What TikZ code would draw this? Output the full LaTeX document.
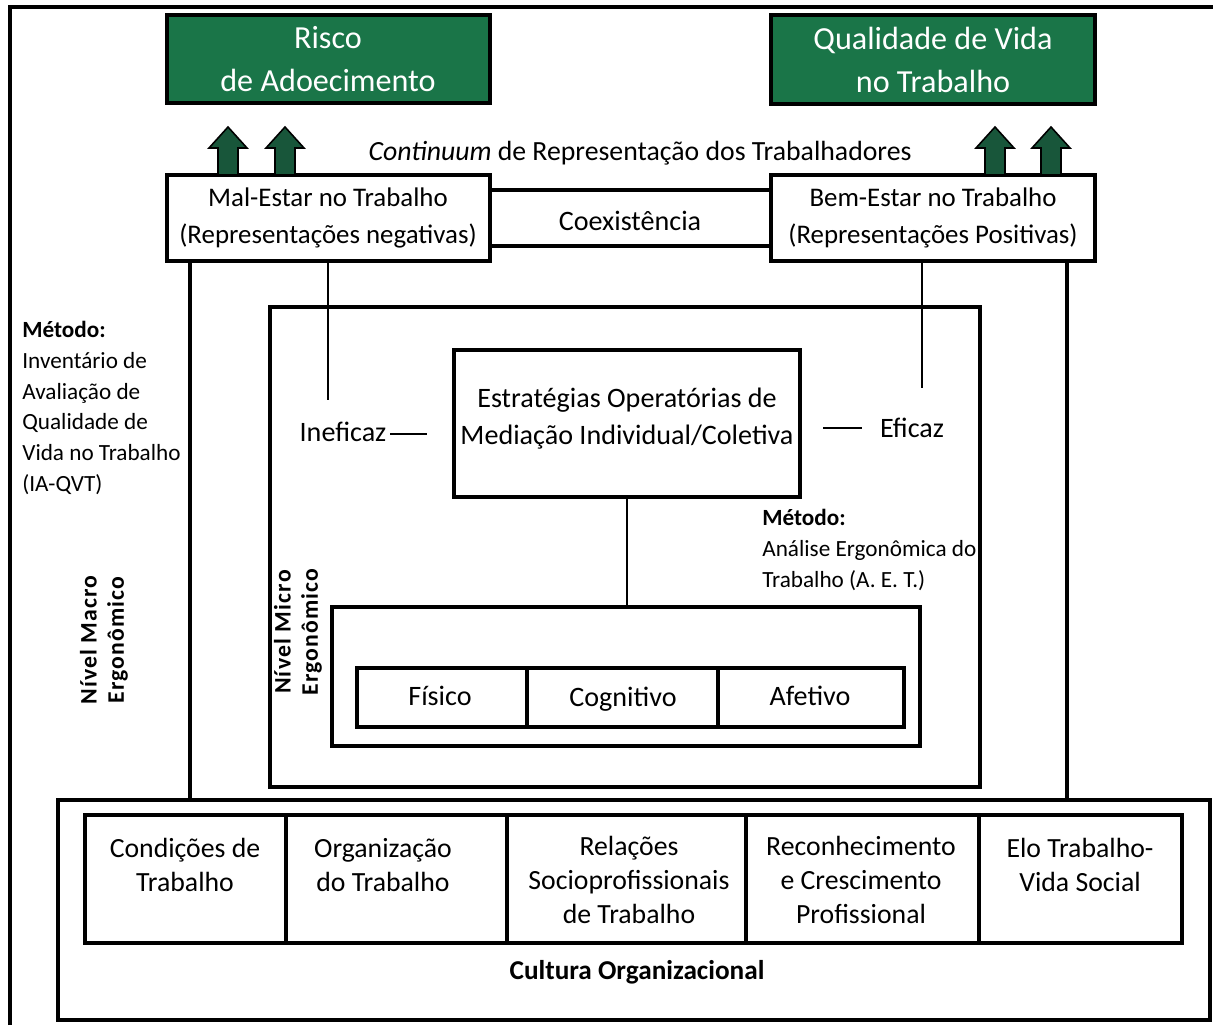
\documentclass[tikz,border=0pt]{standalone}
\usepackage{fontspec}
\setmainfont{Carlito}
\usetikzlibrary{fit}
\definecolor{qgreen}{RGB}{26,117,72}
\definecolor{qarrow}{RGB}{24,86,58}
\begin{document}
\begin{tikzpicture}[x=0.02cm,y=-0.02cm,
  thick line/.style={line width=2.1pt},
  thin line/.style={line width=1.2pt},
  boxframe/.style={draw=black, thick line, inner sep=0pt},
  gbox/.style={boxframe, fill=qgreen},
  wbox/.style={boxframe, fill=white},
  txt/.style={align=center, inner sep=0pt, font=\fontsize{16}{21}\selectfont},
  gtxt/.style={txt, text=white, font=\fontsize{18.3}{24}\selectfont},
  rtxt/.style={txt, font=\fontsize{15.3}{21}\selectfont},
  ctxt/.style={txt, font=\fontsize{15.8}{19.3}\selectfont},
  small/.style={align=left, inner sep=0pt, font=\fontsize{13.2}{17.5}\selectfont},
  rot/.style={rotate=90, align=center, inner sep=0pt,
    font=\bfseries\fontsize{13.5}{15.5}\selectfont\addfontfeatures{LetterSpace=5}},
  uparr/.pic={\filldraw[fill=qarrow, draw=black, line width=0.9pt]
    (-10,0) -- (-10,-27) -- (-19,-27) -- (0,-48) -- (19,-27) -- (10,-27) -- (10,0) -- cycle;}
]
\fill[white] (0,0) rectangle (1213,1025);
\useasboundingbox (0,0) rectangle (1213,1025);

% page frame
\draw[thick line] (10,1025) -- (10,7) -- (1213,7);

% outcomes
\node[gbox, fit={(167,15) (490,103)}] (risco) {};
\node[gtxt] (riscot) at (328,59) {Risco\\de Adoecimento};
\node[gbox, fit={(771,15) (1095,104)}] (qvt) {};
\node[gtxt] (qvtt) at (933,60) {Qualidade de Vida\\no Trabalho};

% representations
\node[wbox, fit={(167,175) (490,261)}] (mal) {};
\node[rtxt] (malt) at (328,218) {Mal-Estar no Trabalho\\(Representações negativas)};
\node[wbox, fit={(771,175) (1095,261)}] (bem) {};
\node[rtxt] (bemt) at (933,218) {Bem-Estar no Trabalho\\(Representações Positivas)};

% arrows onto the outcomes
\pic at (228,175) {uparr};
\pic at (285,175) {uparr};
\pic at (995,175) {uparr};
\pic at (1051,175) {uparr};

\node[txt, font=\fontsize{15.8}{20}\selectfont] (cont) at (640,153)
  {\textit{Continuum} de Representação dos Trabalhadores};

% coexistence band
\coordinate (c1) at (490,190);
\coordinate (c2) at (771,190);
\coordinate (c3) at (490,246);
\coordinate (c4) at (771,246);
\draw[thick line] (c1) -- (c2);
\draw[thick line] (c3) -- (c4);
\node[txt] (coex) at (630,221) {Coexistência};

% macro level
\node[boxframe, fit={(270,307) (980,787)}] (micro) {};
\node[wbox, fit={(58,800) (1210,1020)}] (cultura) {};
\coordinate (ml) at (190,261);
\coordinate (mlb) at (190,800);
\coordinate (mr) at (1067,261);
\coordinate (mrb) at (1067,800);
\draw[thick line] (ml) -- (mlb);
\draw[thick line] (mr) -- (mrb);

% strategies
\node[boxframe, fit={(454,350) (800,497)}] (estr) {};
\node[txt] (estrt) at (627,419) {Estratégias Operatórias de\\Mediação Individual/Coletiva};

\node[txt] (inef) at (343,432) {Ineficaz};
\node[txt] (efic) at (912,428) {Eficaz};
\coordinate (i0) at (328,261);
\coordinate (i1) at (328,400);
\coordinate (e0) at (922,261);
\coordinate (e1) at (922,388);
\draw[thin line] (i0) -- (i1);
\draw[thin line] (e0) -- (e1);
\coordinate (n1) at (390,434);
\coordinate (n2) at (427,434);
\draw[thin line] (n1) -- (n2);
\coordinate (d1) at (823,428);
\coordinate (d2) at (862,428);
\draw[thin line] (d1) -- (d2);

% dimensions
\node[boxframe, fit={(332,607) (920,746)}] (dims) {};
\draw[thin line] (estr.south) -- (dims.north -| estr.south);
\node[boxframe, fit={(357,668) (527,727)}] (fis) {};
\node[boxframe, fit={(527,668) (718,727)}] (cog) {};
\node[boxframe, fit={(718,668) (904,727)}] (afe) {};
\node[txt] (fist) at (440,696) {Físico};
\node[txt] (cogt) at (623,699) {Cognitivo};
\node[txt] (afet) at (810,696) {Afetivo};

% methods
\node[small, anchor=north west] (met1) at (22,321)
  {\textbf{Método:}\\Inventário de\\Avaliação de\\Qualidade de\\Vida no Trabalho\\(IA-QVT)};
\node[small, anchor=north west] (met2) at (762,509)
  {\textbf{Método:}\\Análise Ergonômica do\\Trabalho (A. E. T.)};

\node[rot] (macro) at (104,640) {Nível Macro\\Ergonômico};
\node[rot] (microt) at (298,632) {Nível Micro\\Ergonômico};

% organisational context
\node[boxframe, fit={(85,815) (286,943)}] (f1) {};
\node[boxframe, fit={(286,815) (507,943)}] (f2) {};
\node[boxframe, fit={(507,815) (746,943)}] (f3) {};
\node[boxframe, fit={(746,815) (979,943)}] (f4) {};
\node[boxframe, fit={(979,815) (1182,943)}] (f5) {};
\node[ctxt] (f1t) at (185,865) {Condições de\\Trabalho};
\node[ctxt] (f2t) at (383,865) {Organização\\do Trabalho};
\node[ctxt] (f3t) at (629,880) {Relações\\Socioprofissionais\\de Trabalho};
\node[ctxt] (f4t) at (861,880) {Reconhecimento\\e Crescimento\\Profissional};
\node[ctxt] (f5t) at (1080,865) {Elo Trabalho-\\Vida Social};
\node[txt, font=\bfseries\fontsize{15.5}{18}\selectfont] (cult) at (637,972) {Cultura Organizacional};
\end{tikzpicture}
\end{document}
